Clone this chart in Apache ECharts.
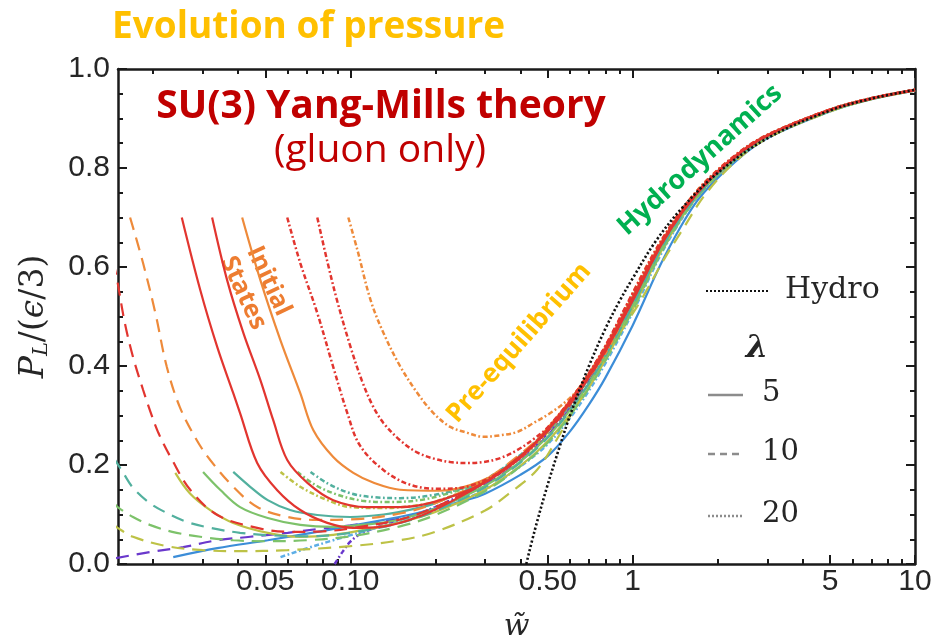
<!DOCTYPE html>
<html>
<head>
<meta charset="utf-8">
<script src="https://cdn.jsdelivr.net/npm/echarts@6/dist/echarts.min.js"></script>
<style>
  html, body { margin: 0; padding: 0; background: #ffffff; }
  #chart { width: 946px; height: 644px; }
</style>
</head>
<body>
<div id="chart"></div>
<script>
// ---- axis ranges and ticks ----
const X_MIN = 0.01504;
const X_MAX = 10;
const xTickValues = [0.05, 0.1, 0.5, 1, 5, 10];
const xTickLabels = ['0.05', '0.10', '0.50', '1', '5', '10'];
const xMinorTicks = [0.02, 0.03, 0.04, 0.06, 0.07, 0.08, 0.09,
                     0.2, 0.3, 0.4, 0.6, 0.7, 0.8, 0.9,
                     2, 3, 4, 6, 7, 8, 9];

// ---- first-order hydrodynamic attractor ----
const hydro = [[0.42, 0.0], [0.45, 0.068], [0.5, 0.16], [0.55, 0.235], [0.6, 0.30], [0.7, 0.40],
  [0.8, 0.475], [0.9, 0.532], [1, 0.577], [1.2, 0.65], [1.5, 0.72], [2, 0.79], [3, 0.86],
  [5, 0.916], [7, 0.94], [10, 0.958]];

// ---- lambda = 5 (solid) ----
const redSolidA = [[0.0253, 0.70], [0.0294, 0.554], [0.0338, 0.438], [0.0385, 0.345], [0.0407, 0.305],
  [0.0468, 0.204], [0.0551, 0.149], [0.0665, 0.109], [0.0829, 0.083], [0.1025, 0.073], [0.128, 0.075],
  [0.16, 0.088], [0.2, 0.11], [0.3, 0.165], [0.4, 0.218], [0.5, 0.27], [0.6, 0.325], [0.7, 0.378],
  [0.8, 0.43], [1, 0.532], [1.3, 0.657], [1.7, 0.75], [2.3, 0.822], [3, 0.865], [5, 0.917], [7, 0.94], [10, 0.957]];
const redSolidB = [[0.0324, 0.70], [0.0366, 0.574], [0.0418, 0.467], [0.048, 0.372], [0.0533, 0.291],
  [0.0598, 0.21], [0.0705, 0.164], [0.087, 0.129], [0.115, 0.115], [0.15, 0.115], [0.197, 0.125],
  [0.289, 0.16], [0.4, 0.215], [0.5, 0.272], [0.6, 0.328], [0.7, 0.382], [0.8, 0.435], [1, 0.537],
  [1.3, 0.66], [1.7, 0.752], [2.3, 0.823], [3, 0.866], [5, 0.918], [7, 0.941], [10, 0.958]];
const orangeSolid = [[0.0414, 0.70], [0.048, 0.574], [0.0565, 0.453], [0.0665, 0.345], [0.074, 0.27],
  [0.087, 0.216], [0.1025, 0.184], [0.121, 0.164], [0.15, 0.15], [0.208, 0.148], [0.289, 0.167],
  [0.4, 0.215], [0.5, 0.275], [0.6, 0.33], [0.7, 0.385], [0.8, 0.438], [1, 0.54], [1.3, 0.662],
  [1.7, 0.752], [2.3, 0.823], [3, 0.866], [5, 0.918], [7, 0.941], [10, 0.958]];
const tealSolid = [[0.0385, 0.186], [0.0442, 0.156], [0.051, 0.129], [0.0612, 0.109], [0.0764, 0.099],
  [0.1, 0.095], [0.131, 0.1], [0.17, 0.112], [0.2, 0.123], [0.3, 0.168], [0.4, 0.218], [0.5, 0.268],
  [0.6, 0.322], [0.7, 0.376], [0.8, 0.43], [1, 0.532], [1.3, 0.656], [1.7, 0.75], [2.3, 0.821],
  [3, 0.865], [5, 0.917], [7, 0.94], [10, 0.957]];
const greenSolid = [[0.0301, 0.186], [0.0346, 0.15], [0.0407, 0.115], [0.051, 0.093], [0.0665, 0.079],
  [0.087, 0.075], [0.115, 0.08], [0.15, 0.09], [0.2, 0.112], [0.3, 0.158], [0.4, 0.207], [0.5, 0.257],
  [0.6, 0.311], [0.7, 0.365], [0.8, 0.42], [1, 0.522], [1.3, 0.65], [1.7, 0.746], [2.3, 0.818],
  [3, 0.863], [5, 0.916], [7, 0.94], [10, 0.957]];
const oliveSolid = [[0.024, 0.184], [0.027, 0.143], [0.0319, 0.109], [0.0385, 0.083], [0.051, 0.063],
  [0.0665, 0.055], [0.087, 0.059], [0.115, 0.07], [0.15, 0.084], [0.2, 0.105], [0.3, 0.15],
  [0.4, 0.198], [0.5, 0.248], [0.6, 0.302], [0.7, 0.357], [0.8, 0.412], [1, 0.515], [1.3, 0.645],
  [1.7, 0.744], [2.3, 0.817], [3, 0.862], [5, 0.915], [7, 0.939], [10, 0.957]];
const blueSolid = [[0.0236, 0.014], [0.0338, 0.032], [0.051, 0.048], [0.0764, 0.065], [0.115, 0.083],
  [0.173, 0.103], [0.25, 0.127], [0.3, 0.142], [0.4, 0.18], [0.5, 0.218], [0.6, 0.268], [0.7, 0.322],
  [0.8, 0.376], [1, 0.482], [1.3, 0.622], [1.7, 0.735], [2.3, 0.812], [3, 0.86], [5, 0.914],
  [7, 0.939], [10, 0.956]];

// ---- lambda = 10 (dashed) ----
const orangeDashed = [[0.0166, 0.70], [0.01845, 0.608], [0.0204, 0.507], [0.0224, 0.398], [0.0249, 0.317],
  [0.0286, 0.25], [0.0319, 0.21], [0.0385, 0.156], [0.0468, 0.115], [0.0598, 0.095], [0.0764, 0.089],
  [0.1, 0.09], [0.15, 0.102], [0.2, 0.123], [0.3, 0.17], [0.4, 0.222], [0.5, 0.272], [0.6, 0.327],
  [0.7, 0.38], [0.8, 0.433], [1, 0.535], [1.3, 0.658], [1.7, 0.751], [2.3, 0.822], [3, 0.865],
  [5, 0.917], [7, 0.94], [10, 0.957]];
const redDashed = [[0.0145, 0.61], [0.015, 0.568], [0.0159, 0.487], [0.017, 0.418], [0.01845, 0.352],
  [0.0195, 0.311], [0.0209, 0.265], [0.0234, 0.21], [0.0271, 0.15], [0.0338, 0.099], [0.0468, 0.073],
  [0.0612, 0.065], [0.08, 0.066], [0.1, 0.072], [0.15, 0.09], [0.2, 0.115], [0.3, 0.166], [0.4, 0.218],
  [0.5, 0.268], [0.6, 0.322], [0.7, 0.377], [0.8, 0.43], [1, 0.533], [1.3, 0.657], [1.7, 0.75],
  [2.3, 0.821], [3, 0.865], [5, 0.917], [7, 0.94], [10, 0.957]];
const tealDashed = [[0.0145, 0.215], [0.0157, 0.184], [0.017, 0.154], [0.0195, 0.123], [0.0224, 0.103],
  [0.0264, 0.085], [0.0319, 0.073], [0.0407, 0.063], [0.052, 0.058], [0.07, 0.056], [0.1, 0.063],
  [0.15, 0.083], [0.2, 0.107], [0.3, 0.155], [0.4, 0.205], [0.5, 0.255], [0.6, 0.31], [0.7, 0.365],
  [0.8, 0.42], [1, 0.522], [1.3, 0.65], [1.7, 0.745], [2.3, 0.818], [3, 0.863], [5, 0.916],
  [7, 0.94], [10, 0.957]];
const greenDashed = [[0.0145, 0.125], [0.015, 0.115], [0.017, 0.095], [0.0195, 0.079], [0.0234, 0.065],
  [0.0294, 0.055], [0.0385, 0.048], [0.05, 0.046], [0.07, 0.048], [0.1, 0.056], [0.15, 0.076],
  [0.2, 0.099], [0.3, 0.147], [0.4, 0.197], [0.5, 0.245], [0.6, 0.3], [0.7, 0.355], [0.8, 0.41],
  [1, 0.512], [1.3, 0.642], [1.7, 0.742], [2.3, 0.816], [3, 0.862], [5, 0.915], [7, 0.939], [10, 0.957]];
const oliveDashed = [[0.0145, 0.08], [0.015, 0.073], [0.017, 0.055], [0.0224, 0.036], [0.03, 0.028],
  [0.04, 0.026], [0.06, 0.028], [0.1, 0.036], [0.15, 0.048], [0.2, 0.065], [0.3, 0.108], [0.37, 0.145],
  [0.458, 0.19], [0.543, 0.255], [0.637, 0.325], [0.75, 0.392], [0.885, 0.459], [1.07, 0.533],
  [1.29, 0.615], [1.5, 0.675], [1.8, 0.745], [2.3, 0.812], [3, 0.86], [5, 0.914], [7, 0.939], [10, 0.956]];
const purpleDashed = [[0.0148, 0.012], [0.0195, 0.024], [0.0256, 0.034], [0.0338, 0.048], [0.0442, 0.055],
  [0.06, 0.063], [0.08, 0.072], [0.1, 0.078], [0.15, 0.092], [0.2, 0.112], [0.3, 0.16], [0.4, 0.208],
  [0.5, 0.26], [0.6, 0.315], [0.7, 0.37], [0.8, 0.425], [1, 0.527], [1.3, 0.652], [1.7, 0.748],
  [2.3, 0.82], [3, 0.864], [5, 0.916], [7, 0.94], [10, 0.957]];

// ---- lambda = 20 (dash-dot) ----
const redDotA = [[0.0598, 0.70], [0.0665, 0.608], [0.0764, 0.507], [0.087, 0.398], [0.0976, 0.305],
  [0.108, 0.24], [0.131, 0.19], [0.163, 0.16], [0.208, 0.152], [0.266, 0.158], [0.34, 0.186], [0.42, 0.225],
  [0.5, 0.272], [0.6, 0.33], [0.7, 0.385], [0.8, 0.44], [1, 0.545], [1.3, 0.662], [1.7, 0.753],
  [2.3, 0.824], [3, 0.866], [5, 0.918], [7, 0.941], [10, 0.958]];
const redDotB = [[0.0764, 0.70], [0.083, 0.61], [0.09, 0.53], [0.1, 0.44], [0.11, 0.37], [0.12, 0.32],
  [0.131, 0.285], [0.15, 0.25], [0.173, 0.225], [0.2, 0.212], [0.226, 0.206], [0.26, 0.204],
  [0.296, 0.206], [0.34, 0.214], [0.39, 0.23], [0.45, 0.254], [0.5, 0.276], [0.6, 0.33], [0.7, 0.385],
  [0.8, 0.44], [1, 0.547], [1.3, 0.665], [1.7, 0.755], [2.3, 0.825], [3, 0.867], [5, 0.918],
  [7, 0.941], [10, 0.958]];
const orangeDot = [[0.0984, 0.70], [0.106, 0.634], [0.118, 0.533], [0.131, 0.467], [0.15, 0.40],
  [0.173, 0.345], [0.197, 0.305], [0.226, 0.277], [0.26, 0.265], [0.296, 0.257], [0.34, 0.26],
  [0.391, 0.267], [0.446, 0.285], [0.511, 0.305], [0.588, 0.331], [0.67, 0.366], [0.77, 0.41],
  [0.885, 0.473], [1, 0.547], [1.3, 0.665], [1.7, 0.756], [2.3, 0.825], [3, 0.867], [5, 0.918],
  [7, 0.941], [10, 0.958]];
const tealDot = [[0.0723, 0.186], [0.083, 0.163], [0.1, 0.143], [0.121, 0.135], [0.15, 0.133],
  [0.2, 0.14], [0.26, 0.156], [0.3, 0.17], [0.4, 0.22], [0.5, 0.272], [0.6, 0.327], [0.7, 0.381],
  [0.8, 0.435], [1, 0.54], [1.3, 0.66], [1.7, 0.752], [2.3, 0.823], [3, 0.866], [5, 0.918],
  [7, 0.941], [10, 0.958]];
const oliveDot = [[0.0566, 0.186], [0.0665, 0.156], [0.083, 0.129], [0.1, 0.115], [0.131, 0.113],
  [0.17, 0.118], [0.2, 0.126], [0.3, 0.166], [0.4, 0.215], [0.5, 0.266], [0.6, 0.321], [0.7, 0.376],
  [0.8, 0.43], [1, 0.535], [1.3, 0.658], [1.7, 0.751], [2.3, 0.822], [3, 0.865], [5, 0.917],
  [7, 0.94], [10, 0.957]];
const greenDot = [[0.065, 0.186], [0.075, 0.16], [0.09, 0.14], [0.11, 0.128], [0.14, 0.125],
  [0.18, 0.13], [0.22, 0.142], [0.3, 0.168], [0.4, 0.218], [0.5, 0.269], [0.6, 0.324], [0.7, 0.378],
  [0.8, 0.432], [1, 0.537], [1.3, 0.659], [1.7, 0.751], [2.3, 0.822], [3, 0.865], [5, 0.917],
  [7, 0.94], [10, 0.957]];
const lightBlueDot = [[0.0566, 0.014], [0.0705, 0.032], [0.087, 0.048], [0.11, 0.065], [0.15, 0.086],
  [0.2, 0.108], [0.3, 0.15], [0.4, 0.197], [0.5, 0.242], [0.6, 0.295], [0.7, 0.35], [0.8, 0.405],
  [1, 0.508], [1.3, 0.64], [1.7, 0.742], [2.3, 0.816], [3, 0.862], [5, 0.915], [7, 0.939], [10, 0.957]];
const purpleDot = [[0.088, 0.0], [0.094, 0.025], [0.1, 0.045], [0.108, 0.06], [0.118, 0.07],
  [0.13, 0.078], [0.15, 0.089], [0.2, 0.115], [0.3, 0.164], [0.4, 0.214], [0.5, 0.264], [0.6, 0.318],
  [0.7, 0.373], [0.8, 0.428], [1, 0.53], [1.3, 0.654], [1.7, 0.749], [2.3, 0.82], [3, 0.864],
  [5, 0.916], [7, 0.94], [10, 0.957]];

// ---- styling ----
const palette = {
  red: '#E2352F', orange: '#EE8A3A', teal: '#52B09E', green: '#7DC26A',
  olive: '#BDC246', blue: '#3C8DD8', lightBlue: '#5DAEE6', purple: '#6A38CC'
};
const dashStyles = {
  solid: 'solid',
  dashed: [13, 8],
  dotted: [5, 2.5, 1.8, 2.5]
};

// drawing order: lower curves first, red/orange on top
const curves = [
  [purpleDashed, 'purple', 'dashed'], [purpleDot, 'purple', 'dotted'],
  [blueSolid, 'blue', 'solid'], [lightBlueDot, 'lightBlue', 'dotted'],
  [oliveDashed, 'olive', 'dashed'], [oliveSolid, 'olive', 'solid'], [oliveDot, 'olive', 'dotted'],
  [greenDashed, 'green', 'dashed'], [greenSolid, 'green', 'solid'], [greenDot, 'green', 'dotted'],
  [tealDashed, 'teal', 'dashed'], [tealSolid, 'teal', 'solid'], [tealDot, 'teal', 'dotted'],
  [orangeDashed, 'orange', 'dashed'], [orangeSolid, 'orange', 'solid'], [orangeDot, 'orange', 'dotted'],
  [redDashed, 'red', 'dashed'], [redSolidA, 'red', 'solid'], [redSolidB, 'red', 'solid'],
  [redDotA, 'red', 'dotted'], [redDotB, 'red', 'dotted']
];

const series = curves.map(([data, c, s]) => ({
  type: 'line', xAxisIndex: 0, yAxisIndex: 0, data: data,
  showSymbol: false, symbol: 'none', smooth: 0.35, silent: true,
  lineStyle: { color: palette[c], width: s === 'dotted' ? 2.5 : 2.2, type: dashStyles[s] }
}));
series.push({
  type: 'line', xAxisIndex: 0, yAxisIndex: 0, data: hydro,
  showSymbol: false, symbol: 'none', smooth: 0.35, silent: true, z: 5,
  lineStyle: { color: '#111111', width: 2.6, type: [2.2, 2.2] }
});

const lg = v => Math.log10(v);
const lgMin = lg(X_MIN), lgMax = lg(X_MAX);
const AX = '#1a1a1a';
const TXT = '#262626';
const tickFont = { fontFamily: 'Liberation Sans, Arial, sans-serif', fontSize: 30, color: TXT };

function xLabel(v) {
  const i = xTickValues.findIndex(t => Math.abs(lg(t) - v) < 1e-6);
  return i >= 0 ? xTickLabels[i] : '';
}

function tickAxis(pos, major, withLabel, extra) {
  const vals = (major ? xTickValues : xMinorTicks).map(lg);
  return Object.assign({
    type: 'value', gridIndex: 0, position: pos, min: lgMin, max: lgMax,
    axisLine: { show: major, onZero: false, lineStyle: { color: AX, width: 2.5 } },
    axisTick: { show: true, inside: true, length: major ? 9 : 5, customValues: vals,
                lineStyle: { color: AX, width: 2 } },
    axisLabel: withLabel
      ? Object.assign({ show: true, customValues: vals, margin: 3, formatter: xLabel }, tickFont)
      : { show: false },
    splitLine: { show: false }
  }, extra || {});
}

const option = {
  animation: false,
  backgroundColor: '#ffffff',
  grid: { left: 118, right: 31, top: 69, bottom: 80, containLabel: false, outerBoundsMode: 'none' },
  xAxis: [
    { type: 'log', logBase: 10, min: X_MIN, max: X_MAX, show: false },
    tickAxis('bottom', true, true, {
      name: 'w\u0303', nameLocation: 'middle', nameGap: 48,
      nameTextStyle: { fontFamily: 'DejaVu Serif', fontStyle: 'italic', fontSize: 30, color: TXT }
    }),
    tickAxis('bottom', false, false),
    tickAxis('top', true, false),
    tickAxis('top', false, false)
  ],
  yAxis: [
    {
      type: 'value', min: 0, max: 1, interval: 0.2, position: 'left',
      axisLine: { show: true, onZero: false, lineStyle: { color: AX, width: 2.5 } },
      axisTick: { show: true, inside: true, length: 9, lineStyle: { color: AX, width: 2 } },
      minorTick: { show: true, splitNumber: 4, length: 5, lineStyle: { color: AX, width: 2 } },
      axisLabel: Object.assign({ margin: 8, formatter: v => v.toFixed(1) }, tickFont),
      splitLine: { show: false },
      name: '{i|P}{s|L}{n|/(}{i|\u03f5}{n|/3)}',
      nameLocation: 'middle', nameGap: 66,
      nameTextStyle: {
        color: TXT,
        rich: {
          i: { fontFamily: 'DejaVu Serif', fontStyle: 'italic', fontSize: 33, color: TXT },
          s: { fontFamily: 'DejaVu Serif', fontStyle: 'italic', fontSize: 21, color: TXT,
               verticalAlign: 'bottom', padding: [14, 0, 0, 0] },
          n: { fontFamily: 'DejaVu Serif', fontSize: 33, color: TXT }
        }
      }
    },
    {
      type: 'value', min: 0, max: 1, interval: 0.2, position: 'right',
      axisLine: { show: true, onZero: false, lineStyle: { color: AX, width: 2.5 } },
      axisTick: { show: true, inside: true, length: 9, lineStyle: { color: AX, width: 2 } },
      minorTick: { show: true, splitNumber: 4, length: 5, lineStyle: { color: AX, width: 2 } },
      axisLabel: { show: false },
      splitLine: { show: false }
    }
  ],
  series: series,
  graphic: [
    // headline
    { type: 'text', x: 112, y: 27, style: { text: 'Evolution of pressure', fill: '#FFC000',
      font: 'bold 37px "Open Sans", sans-serif', textAlign: 'left', textVerticalAlign: 'middle' } },
    { type: 'text', x: 381, y: 107, style: { text: 'SU(3) Yang-Mills theory', fill: '#C00000',
      font: 'bold 39px "Open Sans", sans-serif', textAlign: 'center', textVerticalAlign: 'middle' } },
    { type: 'text', x: 380, y: 151, style: { text: '(gluon only)', fill: '#C00000',
      font: '39px "Open Sans", sans-serif', textAlign: 'center', textVerticalAlign: 'middle' } },
    // stage annotations
    { type: 'text', x: 256, y: 287, rotation: -65 * Math.PI / 180, style: { text: 'Initial\nStates',
      fill: '#ED7D31', font: 'bold 25px "Open Sans", sans-serif', lineHeight: 28,
      textAlign: 'center', textVerticalAlign: 'middle' } },
    { type: 'text', x: 519, y: 343, rotation: 48.5 * Math.PI / 180, style: { text: 'Pre-equilibrium',
      fill: '#FFC000', font: 'bold 26px "Open Sans", sans-serif', textAlign: 'center', textVerticalAlign: 'middle' } },
    { type: 'text', x: 700, y: 160, rotation: 42 * Math.PI / 180, style: { text: 'Hydrodynamics',
      fill: '#00B050', font: 'bold 27px "Open Sans", sans-serif', textAlign: 'center', textVerticalAlign: 'middle' } },
    // key
    { type: 'line', shape: { x1: 706, y1: 291, x2: 770, y2: 291 },
      style: { stroke: '#111', lineWidth: 2, lineDash: [2, 2] } },
    { type: 'text', x: 785, y: 290, style: { text: 'Hydro', fill: TXT,
      font: '30px "DejaVu Serif", serif', textAlign: 'left', textVerticalAlign: 'middle' } },
    { type: 'text', x: 757, y: 349, style: { text: '\u03bb', fill: TXT,
      font: 'italic bold 32px "DejaVu Serif", serif', textAlign: 'center', textVerticalAlign: 'middle' } },
    { type: 'line', shape: { x1: 708, y1: 395, x2: 743, y2: 395 },
      style: { stroke: '#8c8c8c', lineWidth: 2.5 } },
    { type: 'text', x: 762, y: 393, style: { text: '5', fill: TXT,
      font: '29px "DejaVu Serif", serif', textAlign: 'left', textVerticalAlign: 'middle' } },
    { type: 'line', shape: { x1: 708, y1: 454, x2: 743, y2: 454 },
      style: { stroke: '#8c8c8c', lineWidth: 2.5, lineDash: [7, 5] } },
    { type: 'text', x: 762, y: 452, style: { text: '10', fill: TXT,
      font: '29px "DejaVu Serif", serif', textAlign: 'left', textVerticalAlign: 'middle' } },
    { type: 'line', shape: { x1: 708, y1: 516, x2: 743, y2: 516 },
      style: { stroke: '#8c8c8c', lineWidth: 2.5, lineDash: [2, 2] } },
    { type: 'text', x: 762, y: 514, style: { text: '20', fill: TXT,
      font: '29px "DejaVu Serif", serif', textAlign: 'left', textVerticalAlign: 'middle' } }
  ]
};

const chart = echarts.init(document.getElementById('chart'), null, { renderer: 'canvas' });
chart.setOption(option);
</script>
</body>
</html>
